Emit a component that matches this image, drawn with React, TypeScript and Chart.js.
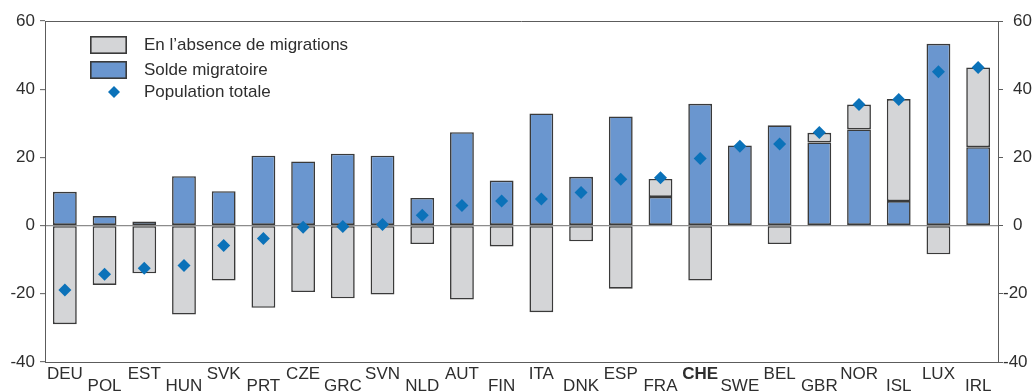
import { useEffect, useRef } from 'react';
import { Chart, registerables } from 'chart.js';

Chart.register(...registerables);

// Countries, ordered by total population change
const countries = [
  'DEU', 'POL', 'EST', 'HUN', 'SVK', 'PRT', 'CZE', 'GRC', 'SVN', 'NLD', 'AUT', 'FIN',
  'ITA', 'DNK', 'ESP', 'FRA', 'CHE', 'SWE', 'BEL', 'GBR', 'NOR', 'ISL', 'LUX', 'IRL',
];
const highlighted = 'CHE';

// Contribution of net migration (%)
const netMigration = [
  9.9, 2.8, 1.2, 14.5, 10.1, 20.5, 18.8, 21.1, 20.5, 8.1, 27.4, 13.2,
  32.9, 14.3, 32.0, 8.4, 35.7, 23.5, 29.4, 24.4, 28.2, 7.2, 53.3, 23.0,
];

// Change without migration (%)
const naturalChange = [
  -28.9, -17.4, -14.0, -26.1, -16.1, -24.1, -19.5, -21.3, -20.2, -5.4, -21.7, -6.1,
  -25.4, -4.6, -18.5, 5.3, -16.1, 0, -5.4, 2.8, 7.3, 29.9, -8.4, 23.4,
];

// Total population change (%)
const totalChange = [
  -18.9, -14.3, -12.5, -11.7, -5.8, -3.8, -0.5, -0.3, 0.3, 3.0, 5.9, 7.2,
  7.8, 9.7, 13.6, 14.0, 19.7, 23.3, 23.9, 27.3, 35.5, 37.0, 45.1, 46.4,
];

const yMin = -40;
const yMax = 60;
const yStep = 20;

const FONT = '"Liberation Sans", Arial, Helvetica, sans-serif';
const TEXT = '#2e2e2e';
const FRAME = '#5c5c5c';
const BLUE = '#6a96cf';
const GRAY = '#d4d5d7';
const EDGE = '#3a3a3a';
const DIAMOND = '#0b72b9';
const FONT_SIZE = 17;
const BAR_EDGE = 1.6;

// Top edge of the plot frame
const framePlugin = {
  id: 'frameTop',
  afterDraw(chart: any) {
    const { ctx, chartArea } = chart;
    ctx.save();
    ctx.strokeStyle = FRAME;
    ctx.lineWidth = 1;
    const y = Math.round(chartArea.top) + 0.5;
    ctx.beginPath();
    ctx.moveTo(chartArea.left, y);
    ctx.lineTo(chartArea.right, y);
    ctx.stroke();
    ctx.restore();
  },
};

// Right-hand axis labels, digits aligned with the minus sign hanging left
const rightLabelsPlugin = {
  id: 'rightLabels',
  afterDraw(chart: any) {
    const { ctx, chartArea } = chart;
    const scale = chart.scales.y2;
    ctx.save();
    ctx.font = `${FONT_SIZE}px ${FONT}`;
    ctx.fillStyle = TEXT;
    ctx.textAlign = 'left';
    ctx.textBaseline = 'middle';
    for (const tick of scale.ticks) {
      const y = scale.getPixelForValue(tick.value);
      const x = chartArea.right + (tick.value < 0 ? 5 : 15);
      ctx.fillText(String(tick.value), x, y);
    }
    ctx.restore();
  },
};

// Legend inside the plot area
const legendPlugin = {
  id: 'insideLegend',
  afterDraw(chart: any) {
    const { ctx, chartArea } = chart;
    const ds = chart.data.datasets;
    const x0 = chartArea.left + 45;
    const y0 = chartArea.top + 15;
    const textX = chartArea.left + 99;
    ctx.save();
    ctx.font = `${FONT_SIZE}px ${FONT}`;
    ctx.textAlign = 'left';
    ctx.textBaseline = 'middle';

    const box = (y: number, fill: string) => {
      ctx.fillStyle = EDGE;
      ctx.fillRect(x0, y, 37, 18);
      ctx.fillStyle = fill;
      ctx.fillRect(x0 + BAR_EDGE, y + BAR_EDGE, 37 - 2 * BAR_EDGE, 18 - 2 * BAR_EDGE);
    };

    const gray = ds.find((d: any) => d.key === 'natural');
    const blue = ds.find((d: any) => d.key === 'migration');
    const total = ds.find((d: any) => d.key === 'total');

    box(y0, GRAY);
    ctx.fillStyle = TEXT;
    ctx.fillText(gray.label, textX, y0 + 9);

    box(y0 + 25, BLUE);
    ctx.fillStyle = TEXT;
    ctx.fillText(blue.label, textX, y0 + 34);

    const dx = x0 + 24;
    const dy = y0 + 56;
    const r = 6;
    ctx.fillStyle = DIAMOND;
    ctx.beginPath();
    ctx.moveTo(dx, dy - r);
    ctx.lineTo(dx + r, dy);
    ctx.lineTo(dx, dy + r);
    ctx.lineTo(dx - r, dy);
    ctx.closePath();
    ctx.fill();
    ctx.fillStyle = TEXT;
    ctx.fillText(total.label, textX, dy);
    ctx.restore();
  },
};

export default function App() {
  const canvasRef = useRef<HTMLCanvasElement | null>(null);

  useEffect(() => {
    const canvas = canvasRef.current;
    if (!canvas) return;

    const barStyle = {
      stack: 'bars',
      borderColor: EDGE,
      borderWidth: BAR_EDGE,
      borderSkipped: false,
      inflateAmount: 0,
      barPercentage: 0.6,
      categoryPercentage: 1,
    };

    const chart = new Chart(canvas, {
      type: 'bar',
      data: {
        labels: countries,
        datasets: [
          {
            key: 'total',
            type: 'line',
            label: 'Population totale',
            data: totalChange,
            showLine: false,
            stack: 'total',
            order: 0,
            pointStyle: 'rectRot',
            pointRadius: 6.5,
            pointBackgroundColor: DIAMOND,
            pointBorderWidth: 0,
            borderColor: DIAMOND,
          } as any,
          {
            key: 'migration',
            label: 'Solde migratoire',
            data: netMigration,
            order: 1,
            backgroundColor: BLUE,
            ...barStyle,
          } as any,
          {
            key: 'natural',
            label: 'En l\u2019absence de migrations',
            data: naturalChange,
            order: 2,
            backgroundColor: GRAY,
            ...barStyle,
          } as any,
        ],
      },
      options: {
        responsive: false,
        animation: false,
        devicePixelRatio: 1,
        layout: { padding: { top: 21, left: 0, right: 0, bottom: 0 } },
        plugins: {
          legend: { display: false },
          tooltip: { enabled: false },
        },
        scales: {
          x: {
            stacked: true,
            grid: { display: false, drawTicks: false },
            border: { display: true, color: FRAME, width: 1 },
            ticks: {
              autoSkip: false,
              maxRotation: 0,
              minRotation: 0,
              padding: 6,
              color: TEXT,
              font: (c: any) => ({
                family: FONT,
                size: FONT_SIZE,
                lineHeight: '12px',
                weight: countries[c.index] === highlighted ? 'bold' : 'normal',
              }),
              callback: (_v: any, i: number) =>
                i % 2 === 0 ? countries[i] : ['', countries[i]],
            },
            afterFit: (s: any) => {
              s.height = 29;
            },
          },
          y: {
            stacked: true,
            position: 'left',
            min: yMin,
            max: yMax,
            grid: {
              color: (c: any) => (c.tick && c.tick.value === 0 ? '#8c8c8c' : 'rgba(0,0,0,0)'),
              lineWidth: 1.3,
              tickColor: FRAME,
              tickLength: 5,
              tickWidth: 1,
            },
            border: { display: true, color: FRAME, width: 1 },
            ticks: {
              stepSize: yStep,
              padding: 5,
              color: TEXT,
              font: { family: FONT, size: FONT_SIZE },
            },
            afterFit: (s: any) => {
              s.width = 45;
            },
          },
          y2: {
            position: 'right',
            min: yMin,
            max: yMax,
            grid: {
              drawOnChartArea: false,
              tickColor: FRAME,
              tickLength: 5,
              tickWidth: 1,
            },
            border: { display: true, color: FRAME, width: 1 },
            ticks: {
              stepSize: yStep,
              color: 'rgba(0,0,0,0)',
              font: { family: FONT, size: FONT_SIZE },
            },
            afterFit: (s: any) => {
              s.width = 36;
            },
          },
        },
      } as any,
      plugins: [framePlugin, rightLabelsPlugin, legendPlugin],
    });

    return () => chart.destroy();
  }, []);

  return (
    <div style={{ position: 'fixed', left: 0, top: 0, width: 1034, height: 391, background: '#fff' }}>
      <canvas ref={canvasRef} width={1034} height={391} />
    </div>
  );
}
